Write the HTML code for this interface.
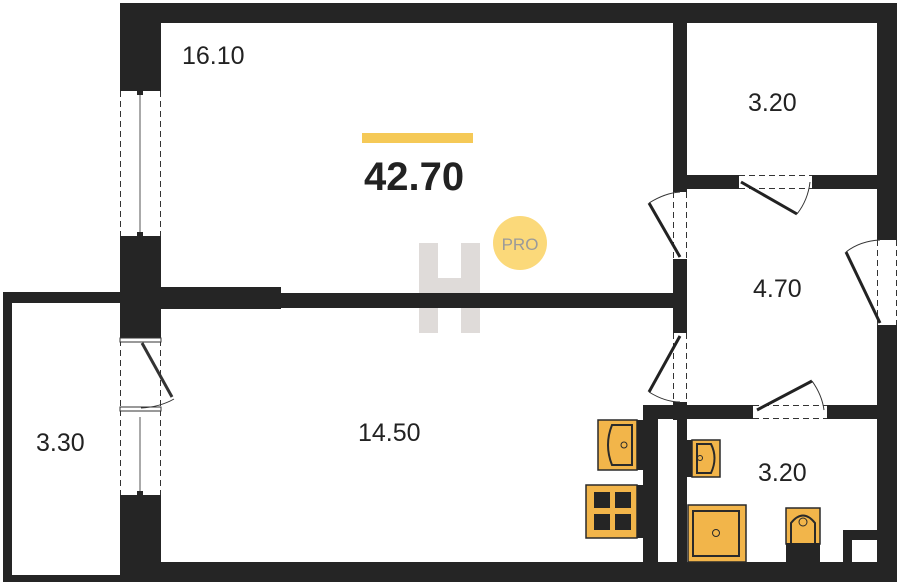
<!DOCTYPE html>
<html><head><meta charset="utf-8"><style>
html,body{margin:0;padding:0;background:#fff;width:900px;height:586px;overflow:hidden}
svg{display:block}
text{font-family:"Liberation Sans",sans-serif;fill:#222}
</style></head><body>
<svg width="900" height="586" viewBox="0 0 900 586" xmlns="http://www.w3.org/2000/svg">
<!-- watermark H -->
<g opacity="0.4">
<rect x="419" y="243" width="19" height="90" fill="#b0a8a2"/>
<rect x="461" y="243" width="19" height="90" fill="#b0a8a2"/>
<rect x="438" y="278" width="23" height="20" fill="#b0a8a2"/>
</g>
<g fill="#252525">
<rect x="120" y="3" width="777" height="20"/>
<rect x="120" y="3" width="41" height="85"/>
<rect x="120" y="238" width="41" height="100"/>
<rect x="120" y="497" width="41" height="85"/>
<rect x="3" y="292" width="120" height="11"/>
<rect x="3" y="292" width="9" height="290"/>
<rect x="3" y="575" width="120" height="7"/>
<rect x="120" y="562" width="777" height="20"/>
<rect x="161" y="287" width="120" height="22"/>
<rect x="280" y="293" width="400" height="15"/>
<rect x="673" y="3" width="14" height="189"/>
<rect x="673" y="259" width="14" height="74"/>
<rect x="673" y="402" width="14" height="18"/>
<rect x="673" y="175" width="66" height="14"/>
<rect x="812" y="175" width="85" height="14"/>
<rect x="877" y="3" width="20" height="237"/>
<rect x="877" y="325" width="20" height="257"/>
<rect x="643" y="405" width="110" height="14"/>
<rect x="827" y="405" width="70" height="14"/>
<rect x="643" y="405" width="15" height="160"/>
<rect x="677" y="405" width="10" height="160"/>
<rect x="843" y="530" width="34" height="35"/>
</g>
<rect x="852" y="540" width="25" height="22" fill="#fff"/>
<g fill="#252525">
<rect x="120" y="88" width="41" height="3"/><rect x="137" y="91" width="6" height="4"/>
<rect x="120" y="236" width="41" height="3"/><rect x="137" y="232" width="6" height="4"/>
<rect x="120" y="495" width="41" height="3"/><rect x="137" y="491" width="6" height="4"/>
</g>
<g stroke="#333" stroke-width="1" stroke-dasharray="6,4" fill="none">
<line x1="120.5" y1="91" x2="120.5" y2="236"/><line x1="160.5" y1="91" x2="160.5" y2="236"/>
<line x1="120.5" y1="340" x2="120.5" y2="495"/><line x1="160.5" y1="340" x2="160.5" y2="495"/>
<line x1="673.5" y1="192" x2="673.5" y2="259"/><line x1="686.5" y1="192" x2="686.5" y2="259"/>
<line x1="673.5" y1="333" x2="673.5" y2="402"/><line x1="686.5" y1="333" x2="686.5" y2="402"/>
<line x1="877.5" y1="240" x2="877.5" y2="325"/><line x1="896.5" y1="240" x2="896.5" y2="325"/>
<line x1="739" y1="175.5" x2="812" y2="175.5"/><line x1="739" y1="188.5" x2="812" y2="188.5"/>
<line x1="753" y1="405.5" x2="827" y2="405.5"/><line x1="753" y1="418.5" x2="827" y2="418.5"/>
</g>
<g stroke="#555" stroke-width="1">
<line x1="140" y1="95" x2="140" y2="232"/>
<line x1="140" y1="417" x2="140" y2="491"/>
</g>
<rect x="120" y="338" width="41" height="4" fill="#fff" stroke="#333" stroke-width="1"/>
<rect x="120" y="407" width="41" height="4" fill="#fff" stroke="#333" stroke-width="1"/>
<line x1="142" y1="343" x2="172" y2="397" stroke="#333" stroke-width="3"/>
<path d="M174 399 Q160 407 141 408" stroke="#333" fill="none"/>
<g stroke="#222" stroke-width="3" fill="none">
<line x1="680" y1="257" x2="649" y2="203"/>
<line x1="680" y1="336" x2="649" y2="392"/>
<line x1="880" y1="323" x2="846" y2="252"/>
<line x1="741" y1="182" x2="797" y2="214"/>
<line x1="757" y1="410" x2="812" y2="381"/>
</g>
<g stroke="#333" stroke-width="1" fill="none">
<path d="M649 203 Q665 193 680 192"/>
<path d="M649 392 Q665 402 680 402"/>
<path d="M846 252 Q860 241 880 240"/>
<path d="M797 214 Q808 200 810 182"/>
<path d="M812 381 Q822 395 824 410"/>
</g>
<g stroke="#2a2a2a" stroke-width="1.5">
<rect x="598" y="420" width="39" height="50" fill="#f2b54a"/>
<rect x="586" y="485" width="51" height="53" fill="#f2b54a"/>
<rect x="692" y="440" width="28" height="37" fill="#f2b54a"/>
<rect x="688" y="505" width="58" height="57" fill="#f2b54a"/>
<rect x="786" y="508" width="34" height="36" fill="#f2b54a"/>
</g>
<g fill="#252525">
<rect x="637" y="420" width="6" height="50"/>
<rect x="637" y="485" width="6" height="53"/>
<rect x="687" y="440" width="5" height="37"/>
<rect x="786" y="543" width="34" height="19"/>
<rect x="594" y="492" width="16" height="16"/><rect x="615" y="492" width="16" height="16"/>
<rect x="594" y="514" width="16" height="16"/><rect x="615" y="514" width="16" height="16"/>
</g>
<g stroke="#2a2a2a" stroke-width="2" fill="none">
<path d="M632 425 H612 Q604 445 612 465 H632 Z"/>
<path d="M697 444 H711 Q718 458 711 473 H697 Z"/>
<rect x="693" y="511" width="46" height="45"/>
<path d="M791 543 V523 Q803 508 815 523 V543"/>
</g>
<g stroke="#2a2a2a" stroke-width="1" fill="none">
<circle cx="624" cy="445" r="3"/><circle cx="700" cy="458" r="2.5"/><circle cx="716" cy="533" r="3.5"/><circle cx="803" cy="522" r="4"/>
</g>
<rect x="362" y="133" width="111" height="10" fill="#f5c957"/>
<text x="364" y="190" font-size="40" font-weight="bold" fill="#111">42.70</text>
<circle cx="520" cy="243" r="27" fill="#fbd97a"/>
<text x="520" y="250" font-size="17" text-anchor="middle" style="fill:#9a9a9a">PRO</text>
<text x="182" y="64" font-size="25">16.10</text>
<text x="748" y="111" font-size="25">3.20</text>
<text x="753" y="297" font-size="25">4.70</text>
<text x="358" y="441" font-size="25">14.50</text>
<text x="36" y="451" font-size="25">3.30</text>
<text x="758" y="481" font-size="25">3.20</text>
</svg>
</body></html>
